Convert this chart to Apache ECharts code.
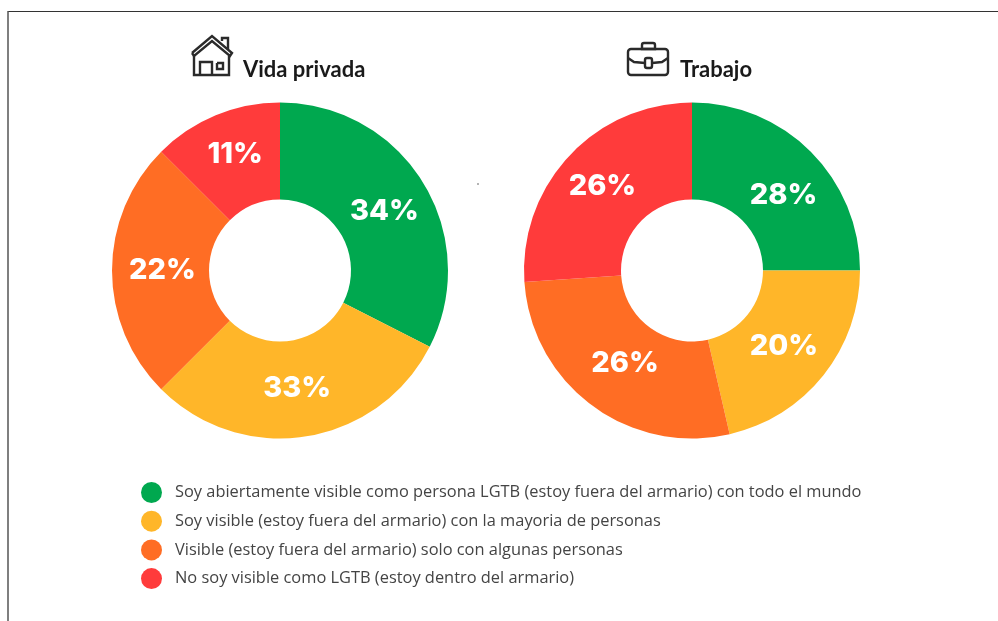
<!DOCTYPE html>
<html>
<head>
<meta charset="utf-8">
<style>html,body{margin:0;padding:0;background:#fff}#main{width:998px;height:621px}</style>
<script src="https://cdn.jsdelivr.net/npm/echarts@6/dist/echarts.min.js"></script>
</head>
<body>
<div id="main"></div>
<script>
var categories=[
    'Soy abiertamente visible como persona LGTB (estoy fuera del armario) con todo el mundo',
    'Soy visible (estoy fuera del armario) con la mayoria de personas',
    'Visible (estoy fuera del armario) solo con algunas personas',
    'No soy visible como LGTB (estoy dentro del armario)'
]
var colors=['#00a84f','#ffb629','#ff6d24','#ff3b3b']
// printed percentages
var privadaLabels=['34%','33%','22%','11%']
var trabajoLabels=['28%','20%','26%','26%']
// slice sizes as drawn in the picture (they do not follow the printed numbers exactly)
var privadaValues=[32.5,30,25,12.5]
var trabajoValues=[25,21.4,27.5,26.1]
// nudges so the labels sit where the original has them
var privadaNudge=[[0,5],[-2,-3],[5,0],[2,-3]]
var trabajoNudge=[[5,11],[-4,-1],[6,-6],[0,-1]]

function buildData(values,labels){
    return values.map(function(v,i){
        return {
            name:categories[i],
            value:v,
            itemStyle:{color:colors[i]},
            label:{formatter:labels[i]}
        }
    })
}
function donut(name,cx,values,labels,nudge){
    return {
        type:'pie',
        name:name,
        center:[cx,270.5],
        radius:[71,168],
        startAngle:90,
        clockwise:true,
        silent:true,
        animation:false,
        label:{
            show:true,
            position:'inside',
            color:'#fff',
            fontFamily:'Inter',
            fontWeight:800,
            fontSize:29
        },
        labelLine:{show:false},
        labelLayout:function(params){
            return {dx:nudge[params.dataIndex][0],dy:nudge[params.dataIndex][1]}
        },
        data:buildData(values,labels)
    }
}
var line={stroke:'#2a2a2a',lineWidth:2.4,fill:'none'}
function pl(points){
    return {type:'polyline',shape:{points:points},style:line}
}

var myChart=echarts.init(document.getElementById('main'))
var option={
    backgroundColor:'#fff',
    title:[
        {text:'Vida privada',left:238,top:54,textStyle:{fontFamily:'Lato',fontWeight:700,fontSize:22,color:'#1a1a1a'}},
        {text:'Trabajo',left:675,top:54,textStyle:{fontFamily:'Lato',fontWeight:700,fontSize:22,color:'#1a1a1a'}}
    ],
    legend:{
        orient:'vertical',
        left:136,
        top:477,
        icon:'circle',
        itemWidth:21,
        itemHeight:21,
        itemGap:7.7,
        selectedMode:false,
        textStyle:{fontFamily:'Open Sans',fontSize:16.4,color:'#444',padding:[0,0,0,8]},
        data:categories
    },
    series:[
        donut('Vida privada',280,privadaValues,privadaLabels,privadaNudge),
        donut('Trabajo',692,trabajoValues,trabajoLabels,trabajoNudge)
    ],
    graphic:[
        // page frame
        {type:'line',shape:{x1:8,y1:11.5,x2:998,y2:11.5},style:{stroke:'#333',lineWidth:1}},
        {type:'line',shape:{x1:8,y1:11,x2:8,y2:621},style:{stroke:'#555',lineWidth:1.5}},
        // house icon
        pl([[192,53],[212,36],[232,53],[230,56],[212,41],[194,56],[192,53]]),
        pl([[194,56],[194,75],[229,75],[229,56]]),
        pl([[200,75],[200,62],[212,62],[212,75]]),
        pl([[217,63],[223,63],[223,69],[217,69],[217,63]]),
        pl([[222,41],[222,38],[228,38],[228,49]]),
        // briefcase icon
        {type:'rect',shape:{x:628,y:49,width:40,height:26,r:3},style:line},
        {type:'rect',shape:{x:642,y:43,width:13,height:6,r:[2,2,0,0]},style:line},
        pl([[628,58],[634,62],[645,63]]),
        pl([[652,63],[662,62],[668,58]]),
        {type:'rect',shape:{x:645,y:58,width:7,height:10,r:2},style:line},
        {type:'circle',shape:{cx:478,cy:184,r:0.8},style:{fill:'#555'}}
    ]
}
myChart.setOption(option)
</script>
</body>
</html>
